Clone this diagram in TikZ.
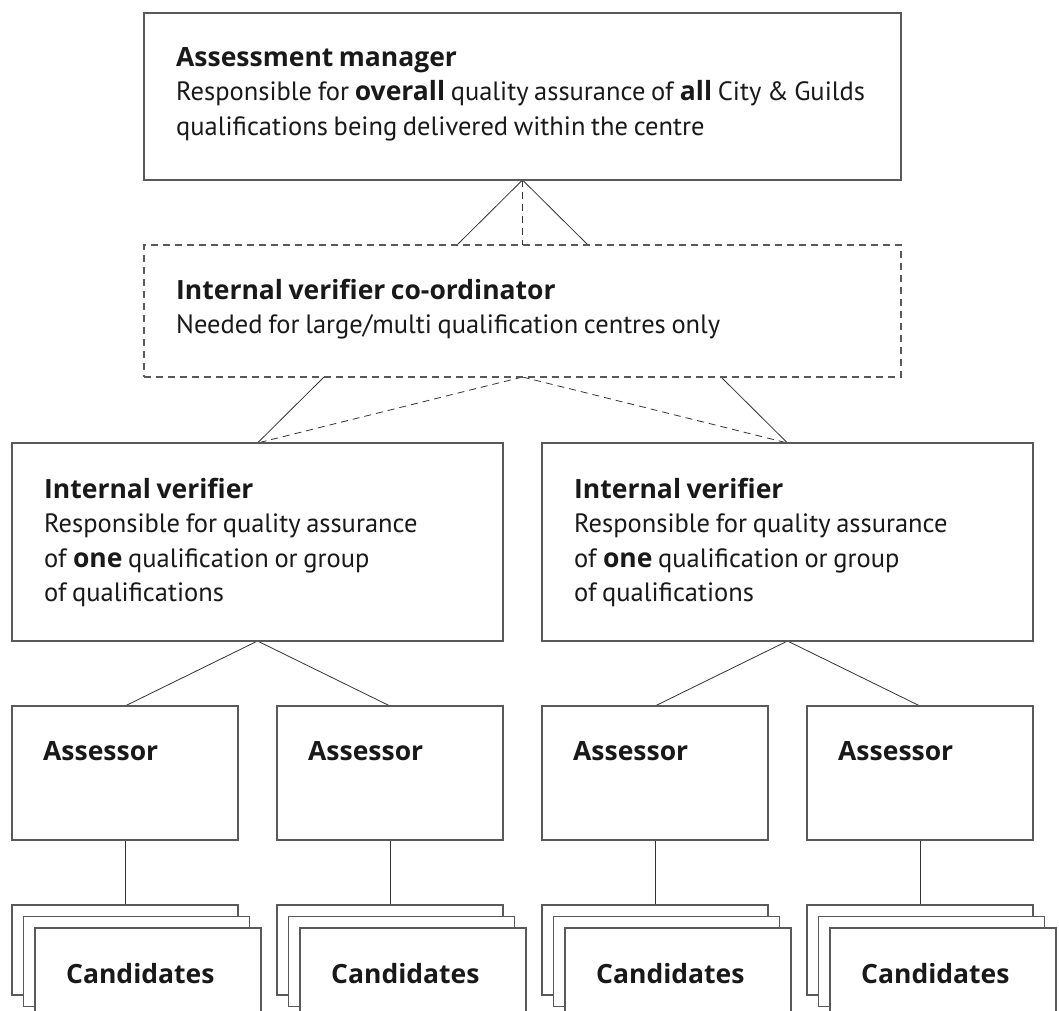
\documentclass[tikz,border=0pt]{standalone}
\usepackage{fontspec}
\setmainfont{PT Sans}[BoldFont={Open Sans Bold}, WordSpace=0.8]
\usetikzlibrary{backgrounds}

\begin{document}
\begin{tikzpicture}[x=1pt, y=-1pt, box node/.style={rectangle, draw=black!65, line width=1.1pt, fill=white, anchor=north west, inner sep=0pt, outer sep=0pt}, dash node/.style={box node, dash pattern=on 7pt off 5pt}, sheet node/.style={box node, minimum width=226pt, minimum height=90pt}, text node/.style={anchor=north west, align=left, inner sep=0pt, text=black!90, font=\fontsize{26.5}{34.5}\selectfont}, link/.style={draw=black!80, line width=.8pt}]
\useasboundingbox (0,0) rectangle (1059,1010);
\clip (0,0) rectangle (1059,1010);

\node[box node, minimum width=757pt, minimum height=167pt](manager) at (144,13){};
\node[text node](manager text) at ([shift={(32pt,-34pt)}]manager.north west)
    {\textbf{Assessment manager}\\Responsible for \textbf{overall} quality assurance of \textbf{all} City \& Guilds\\qualifications being delivered within the centre};
\node[dash node, minimum width=757pt, minimum height=132pt](coordinator) at (144,245){};
\node[text node](coordinator text) at ([shift={(32pt,-34pt)}]coordinator.north west)
    {\textbf{Internal verifier co-ordinator}\\Needed for large/multi qualification centres only};
\foreach \s/\x in {left/12, right/542}{
    \node[box node, minimum width=491pt, minimum height=198pt](iv \s) at (\x,443){};
    \node[text node](iv \s\space text) at ([shift={(32pt,-35pt)}]iv \s.north west)
        {\textbf{Internal verifier}\\Responsible for quality assurance\\of \textbf{one} qualification or group\\of qualifications};}
\foreach \i/\x in {1/12, 2/277, 3/542, 4/807}{
    \node[box node, minimum width=226pt, minimum height=134pt](assessor \i) at (\x,706){};
    \node[text node](assessor \i\space text) at ([shift={(31pt,-35pt)}]assessor \i.north west){\textbf{Assessor}};
    \foreach \j in {0,1,2}
        \node[sheet node](sheet \i-\j) at (\x+11.5*\j,905+11.5*\j){};
    \node[text node](candidates \i) at ([shift={(31pt,-35pt)}]sheet \i-2.north west){\textbf{Candidates}};}

% connectors go underneath, the co-ordinator box hides the middle part
\begin{pgfonlayer}{background}
\foreach \t in {iv left, iv right}{
    \draw[link] (manager.south) -- (\t.north);
    \draw[link, dash pattern=on 7pt off 5pt] (coordinator.south) -- (\t.north);}
\draw[link, dash pattern=on 7pt off 5pt] (manager.south) -- (coordinator.north);
\foreach \s/\t in {iv left/1, iv left/2, iv right/3, iv right/4}{
    \draw[link] (\s.south) -- (assessor \t.north);
    \draw[link] (assessor \t.south) -- (sheet \t-0.north);}
\end{pgfonlayer}
\end{tikzpicture}
\end{document}
